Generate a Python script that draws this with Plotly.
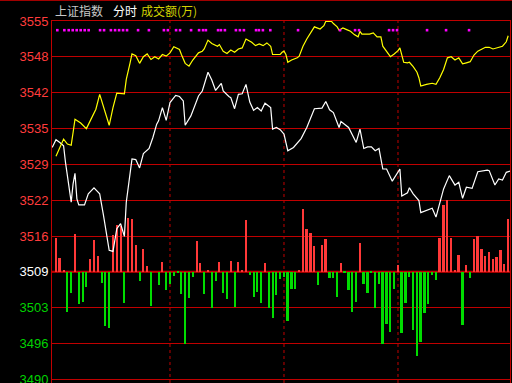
import plotly.graph_objects as go

# ---- price axis ticks (上证指数) ----
tick_vals = [3489.96, 3496.44, 3502.92, 3509.40, 3515.88, 3522.36, 3528.84, 3535.32, 3541.80, 3548.28, 3554.76]
tick_labels = ["3490", "3496", "3503", "3509", "3516", "3522", "3529", "3535", "3542", "3548", "3555"]
prev_close = 3509.40

# ---- index line (white), minutes from open ----
white_t = [-2, 0, 2, 4, 5, 7, 8, 9, 10, 11, 12, 15, 17, 20, 23, 25, 27, 28, 30, 32, 34, 36, 37, 39, 40,
           42, 44, 46, 49, 51, 53, 54, 56, 58, 60, 63, 65, 67, 68, 71, 73, 75, 77, 80, 82, 84, 87, 88,
           91, 92, 94, 96, 98, 100, 102, 104, 106, 108, 110, 113, 114, 116, 118, 120, 122, 125, 129,
           132, 136, 140, 142, 144, 146, 149, 150, 154, 158, 160, 162, 164, 166, 168, 170, 172, 174,
           177, 181, 182, 185, 186, 188, 191, 192, 195, 198, 200, 202, 204, 207, 210, 212, 214, 216,
           219, 222, 227, 228, 231, 233, 235, 237, 239]
white_v = [3531.9, 3533.3, 3532.8, 3532.2, 3529.2, 3524.1, 3522.0, 3525.3, 3527.2, 3522.6, 3521.5,
           3521.5, 3523.5, 3524.6, 3523.5, 3519.6, 3514.9, 3513.3, 3513.1, 3517.2, 3518.1, 3515.8,
           3522.0, 3526.8, 3529.8, 3529.7, 3528.2, 3530.8, 3531.7, 3533.7, 3536.1, 3536.7, 3539.1,
           3536.8, 3540.0, 3541.3, 3541.1, 3540.3, 3535.9, 3537.6, 3539.4, 3541.2, 3542.1, 3545.5,
           3544.1, 3542.2, 3543.5, 3542.1, 3541.1, 3540.9, 3538.9, 3541.5, 3541.6, 3543.3, 3540.1,
           3538.6, 3539.1, 3538.5, 3539.9, 3539.1, 3535.2, 3535.5, 3535.1, 3534.3, 3531.3, 3531.9,
           3533.5, 3535.5, 3538.9, 3539.0, 3540.2, 3538.7, 3538.2, 3535.5, 3536.6, 3535.5, 3532.8,
           3535.2, 3531.7, 3532.0, 3532.0, 3531.3, 3531.7, 3528.0, 3528.0, 3525.8, 3528.0, 3523.1,
           3523.7, 3524.6, 3523.5, 3522.3, 3520.1, 3520.5, 3520.9, 3519.3, 3522.0, 3524.4, 3526.8,
           3525.1, 3525.6, 3522.7, 3524.7, 3524.5, 3527.5, 3527.8, 3527.7, 3525.1, 3526.2, 3526.0,
           3527.4, 3527.6]

# ---- second line (yellow) ----
yellow_t = [0, 2, 4, 6, 8, 9, 10, 13, 16, 18, 21, 23, 25, 28, 30, 32, 36, 37, 39, 40, 42, 44, 46, 48,
            50, 52, 54, 56, 58, 60, 62, 65, 66, 68, 70, 72, 75, 77, 78, 80, 82, 85, 86, 88, 90, 92, 94,
            96, 98, 100, 103, 105, 107, 109, 111, 113, 114, 118, 119, 120, 121, 122, 124, 127, 128,
            130, 132, 134, 136, 139, 141, 142, 145, 146, 148, 149, 151, 153, 155, 157, 159, 160, 161,
            165, 167, 169, 171, 172, 174, 176, 178, 180, 181, 182, 183, 185, 186, 188, 190, 191, 192,
            195, 198, 200, 202, 204, 206, 208, 210, 212, 214, 216, 218, 220, 222, 226, 228, 230, 233,
            235, 237, 238]
yellow_v = [3530.3, 3531.9, 3533.4, 3532.5, 3532.3, 3534.6, 3537.0, 3536.3, 3535.3, 3536.7, 3538.8,
            3541.5, 3539.4, 3535.9, 3539.1, 3541.7, 3541.6, 3544.2, 3547.2, 3548.8, 3548.5, 3547.1,
            3548.3, 3548.8, 3547.8, 3548.3, 3547.9, 3548.7, 3548.4, 3549.0, 3550.1, 3549.6, 3548.7,
            3547.1, 3546.6, 3547.7, 3549.0, 3549.3, 3549.7, 3551.3, 3550.7, 3550.2, 3550.5, 3549.3,
            3548.9, 3549.5, 3549.1, 3549.7, 3549.9, 3551.5, 3550.9, 3550.3, 3550.6, 3550.3, 3550.8,
            3550.2, 3548.7, 3548.7, 3549.1, 3549.3, 3548.7, 3547.3, 3547.7, 3548.1, 3548.4, 3550.2,
            3551.5, 3552.5, 3553.7, 3553.3, 3553.9, 3554.7, 3554.7, 3554.3, 3553.7, 3553.1, 3553.5,
            3553.2, 3552.9, 3552.3, 3551.9, 3552.9, 3552.4, 3552.4, 3552.6, 3551.9, 3551.9, 3550.2,
            3549.3, 3548.3, 3548.8, 3549.4, 3549.9, 3548.7, 3547.3, 3547.2, 3547.3, 3546.5, 3545.5,
            3544.5, 3543.0, 3543.3, 3543.5, 3543.3, 3544.5, 3546.0, 3548.1, 3548.3, 3547.7, 3548.1,
            3547.0, 3547.2, 3547.4, 3548.6, 3549.3, 3550.0, 3550.0, 3549.7, 3550.0, 3550.2, 3551.0,
            3552.1]

# ---- 成交额 bars (signed, arbitrary units), one per 2 minutes ----
bar_t = [0, 2, 4, 6, 8, 10, 12, 14, 16, 18, 20, 22, 24, 26, 28, 30, 32, 34, 36, 38, 40, 42, 44, 46,
         48, 50, 52, 54, 56, 58, 60, 62, 64, 66, 68, 70, 72, 74, 76, 78, 80, 82, 84, 86, 88, 90, 92,
         94, 96, 98, 100, 102, 104, 106, 108, 110, 112, 114, 116, 118, 120, 122, 124, 126, 128, 130,
         132, 134, 136, 138, 140, 142, 144, 146, 148, 150, 152, 154, 156, 158, 160, 162, 164, 166,
         168, 170, 172, 174, 176, 178, 180, 182, 184, 186, 188, 190, 192, 194, 196, 198, 200, 202,
         204, 206, 208, 210, 212, 214, 216, 218, 220, 222, 224, 226, 228, 230, 232, 234, 236, 238]
bar_amt = [340, 140, 10, -400, -210, 380, -320, -300, -150, 130, 320, 160, -110, -540, -560, 370, 470,
           460, -310, 540, 530, 270, -90, 230, 60, -340, 0, -130, 100, -180, -120, -40, -10, -220,
           -720, -260, -50, 310, 90, -220, 10, -360, -90, 100, -210, -270, 110, -350, 100, 10, 520,
           -30, -250, -200, -310, 90, -360, -460, -230, -70, -50, -490, -170, -170, 20, 630, 430, 390,
           260, -130, 270, 330, -60, -60, -250, 90, -10, -180, -400, -300, 290, -120, -210, -10, -360,
           -120, -720, -520, -600, -170, 70, -610, -310, -50, -580, -840, -700, -410, -320, -30, -80,
           340, 670, 720, 340, 20, 170, -530, 70, -60, 330, 360, 230, 160, 200, 130, 150, 220, 80, 530]
amt_per_point = 55.34

# ---- magenta markers (minutes) ----
dot_t = [0.7, 4.4, 6.7, 8.8, 10.9, 13.0, 15.1, 17.2, 23.2, 25.3, 28.9, 31.1, 33.2, 35.3, 37.4, 43.2,
         48.9, 56.8, 58.9, 63.2, 65.3, 71.1, 75.3, 77.4, 78.9, 85.3, 86.8, 88.9, 94.7, 96.8, 98.9,
         105.3, 106.8, 108.9, 112.8, 127.4, 149.5, 157.4, 159.5, 175.3, 177.4, 179.5, 195.3, 205.3,
         217.4]
dot_level = 3553.1

y_range = [3489.3, 3554.76]
x_range = [-2.1, 238.95]
session_marks = [60, 120, 180]

GRID = "#c00000"
fig = go.Figure()

fig.add_trace(go.Bar(
    x=bar_t, y=[a / amt_per_point for a in bar_amt], base=prev_close,
    width=1.05,
    marker=dict(color=["#ff3838" if a > 0 else "#00dc00" for a in bar_amt], line=dict(width=0)),
    hoverinfo="skip", showlegend=False))

fig.add_trace(go.Scatter(x=white_t, y=white_v, mode="lines",
                         line=dict(color="#ffffff", width=1.2), showlegend=False))
fig.add_trace(go.Scatter(x=yellow_t, y=yellow_v, mode="lines",
                         line=dict(color="#ffff00", width=1.2), showlegend=False))
fig.add_trace(go.Scatter(x=dot_t, y=[dot_level] * len(dot_t), mode="markers",
                         marker=dict(symbol="square", size=2.6, color="#ff00ff", line=dict(width=0)),
                         showlegend=False))

colored = []
for v, lab in zip(tick_vals, tick_labels):
    if abs(v - prev_close) < 0.01:
        c = "#ffffff"
    elif v > prev_close:
        c = "#ff3c3c"
    else:
        c = "#00d200"
    colored.append(f"<span style='color:{c}'>{lab}</span>")

shapes = [dict(type="line", xref="x", yref="paper", x0=m, x1=m, y0=0, y1=1,
               line=dict(color=GRID, width=1, dash="dot"), layer="below") for m in session_marks]
shapes.append(dict(type="line", xref="paper", yref="y", x0=0, x1=1, y0=prev_close, y1=prev_close,
                   line=dict(color="#d80000", width=2), layer="below"))
shapes.append(dict(type="line", xref="paper", yref="paper", x0=-0.12, x1=1.01, y0=1.0566, y1=1.0566,
                   line=dict(color="#a00000", width=1)))

annots = [
    dict(text="上证指数", x=53, color="#c8c8c8"),
    dict(text="分时", x=111, color="#ffffff"),
    dict(text="成交额(万)", x=139, color="#d2d200"),
]
annotations = [dict(text=a["text"], xref="paper", yref="paper", x=(a["x"] - 52) / 458, y=1 + 10.5 / 362,
                    xanchor="left", yanchor="middle", showarrow=False,
                    font=dict(family="Noto Sans CJK SC", size=12, color=a["color"])) for a in annots]

fig.update_layout(
    width=512, height=383, margin=dict(l=52, r=2, t=21, b=0, autoexpand=False),
    paper_bgcolor="#000000", plot_bgcolor="#000000",
    bargap=0, shapes=shapes, annotations=annotations, showlegend=False,
    xaxis=dict(range=x_range, showgrid=False, zeroline=False, showticklabels=False, ticks="",
               showline=True, mirror=True, linecolor=GRID, linewidth=1, automargin=False),
    yaxis=dict(range=y_range, tickvals=tick_vals, ticktext=colored, showgrid=True, gridcolor=GRID,
               gridwidth=1, zeroline=False, ticks="", showline=True, mirror=True, linecolor=GRID,
               linewidth=1, ticklabeloverflow="allow", automargin=False,
               tickfont=dict(family="Liberation Sans", size=13)),
)

fig.write_html("out.html")
